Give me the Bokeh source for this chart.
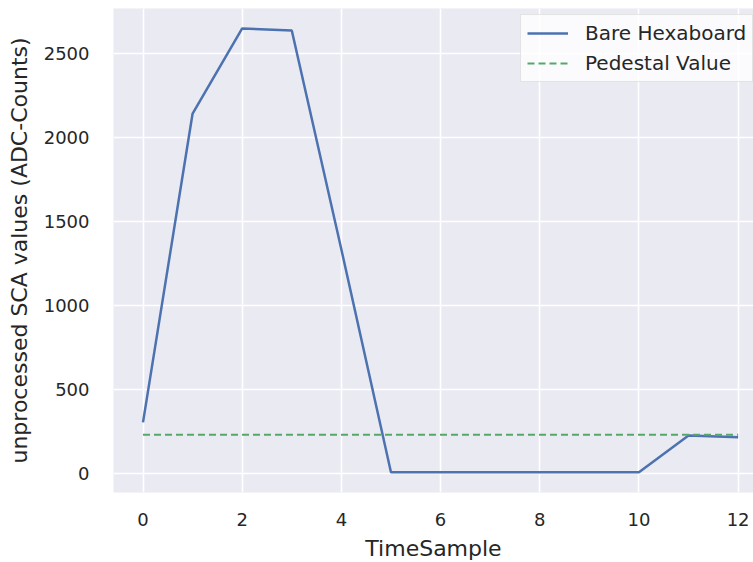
from bokeh.plotting import figure
from bokeh.embed import file_html
from bokeh.resources import INLINE
from bokeh.models import Range1d, FixedTicker, Legend, LegendItem

# Data
time_samples = [0, 1, 2, 3, 4, 5, 6, 7, 8, 9, 10, 11, 12]
bare_hexaboard = [305, 2145, 2652, 2640, 1335, 8, 8, 8, 8, 8, 8, 226, 216]
pedestal_x = [0, 12]
pedestal_value = [231, 231]
x_ticks = [0, 2, 4, 6, 8, 10, 12]
y_ticks = [0, 500, 1000, 1500, 2000, 2500]

FONT = "DejaVu Sans"
TXT = "#262626"

p = figure(width=753, height=562, output_backend="svg", toolbar_location=None,
           x_range=Range1d(-0.595, 12.31), y_range=Range1d(-113, 2771),
           min_border_left=113, min_border_right=0, min_border_top=8, min_border_bottom=70,
           frame_width=640, frame_height=484)
p.background_fill_color = "#EAEAF2"
p.border_fill_color = "white"
p.outline_line_color = None

for g in (p.xgrid, p.ygrid):
    g.grid_line_color = "white"
    g.grid_line_width = 1.6
p.xgrid.ticker = FixedTicker(ticks=x_ticks)
p.ygrid.ticker = FixedTicker(ticks=y_ticks)

p.xaxis.ticker = FixedTicker(ticks=x_ticks)
p.yaxis.ticker = FixedTicker(ticks=y_ticks)
for ax in (p.xaxis, p.yaxis):
    ax.axis_line_color = None
    ax.major_tick_line_color = None
    ax.minor_tick_line_color = None
    ax.major_label_text_font = FONT
    ax.major_label_text_font_size = "18px"
    ax.major_label_text_color = TXT
    ax.axis_label_text_font = FONT
    ax.axis_label_text_font_size = "22px"
    ax.axis_label_text_color = TXT
    ax.axis_label_text_font_style = "normal"
p.xaxis.axis_label = "TimeSample"
p.yaxis.axis_label = "unprocessed SCA values (ADC-Counts)"
p.xaxis.major_label_standoff = 14
p.yaxis.major_label_standoff = 18
p.xaxis.axis_label_standoff = 7
p.yaxis.axis_label_standoff = 9

r1 = p.line(time_samples, bare_hexaboard, line_color="#4C72B0", line_width=2.5)
r2 = p.line(pedestal_x, pedestal_value, line_color="#55A868", line_width=2.2, line_dash="7 4")

legend = Legend(items=[LegendItem(label="Bare Hexaboard", renderers=[r1]),
                       LegendItem(label="Pedestal Value", renderers=[r2])],
                location=(407, 410))
legend.label_text_font = FONT
legend.label_text_font_size = "20px"
legend.label_text_color = TXT
legend.background_fill_color = "white"
legend.background_fill_alpha = 0.8
legend.border_line_color = "#CCCCCC"
legend.border_line_width = 1
legend.padding = 6
legend.spacing = 6
legend.margin = 0
legend.glyph_width = 41
legend.glyph_height = 24
legend.label_height = 24
legend.label_standoff = 17
p.add_layout(legend)

open("out.html", "w").write(file_html(p, INLINE))
